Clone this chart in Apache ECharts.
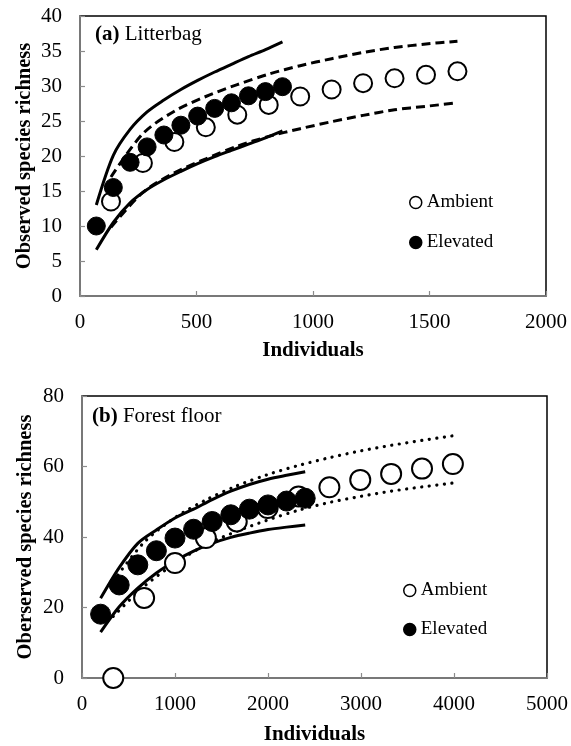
<!DOCTYPE html>
<html>
<head>
<meta charset="utf-8">
<script src="https://cdn.jsdelivr.net/npm/echarts@6/dist/echarts.min.js"></script>
<style>
  html, body { margin: 0; padding: 0; background: #fff; }
  #chart { width: 571px; height: 746px; }
</style>
</head>
<body>
<div id="chart"></div>
<script>
// ---- (a) Litterbag: rarefaction curves with 95% confidence bounds ----
const litterAmbientN     = [133, 270, 405, 540, 675, 810, 945, 1080, 1215, 1350, 1485, 1620];
const litterAmbientS     = [13.5, 19.0, 22.0, 24.1, 25.9, 27.3, 28.5, 29.5, 30.4, 31.1, 31.6, 32.1];
const litterAmbientUpper = [17.0, 23.2, 26.4, 28.5, 30.2, 31.7, 32.9, 33.9, 34.8, 35.5, 36.0, 36.4];
const litterAmbientLower = [9.8, 14.8, 17.6, 19.6, 21.4, 22.8, 23.9, 24.9, 25.8, 26.6, 27.1, 27.6];

const litterElevatedN     = [70, 143, 215, 288, 360, 433, 505, 578, 650, 723, 796, 869];
const litterElevatedS     = [10.0, 15.5, 19.1, 21.3, 23.0, 24.4, 25.7, 26.8, 27.6, 28.6, 29.2, 29.9];
const litterElevatedUpper = [13.0, 20.1, 23.8, 26.3, 28.0, 29.5, 30.8, 32.0, 33.1, 34.2, 35.2, 36.3];
const litterElevatedLower = [6.6, 10.5, 13.3, 15.2, 16.6, 17.8, 18.9, 19.9, 20.8, 21.7, 22.6, 23.6];

// ---- (b) Forest floor ----
const floorAmbientN     = [336, 668, 1000, 1332, 1664, 1996, 2328, 2660, 2992, 3324, 3656, 3988];
const floorAmbientS     = [0, 22.7, 32.6, 39.7, 44.4, 48.2, 51.5, 54.1, 56.2, 57.9, 59.4, 60.7];
const floorAmbientUpper = [27.5, 38.5, 45.5, 50.5, 54.5, 57.7, 60.3, 62.5, 64.4, 66.0, 67.4, 68.7];
const floorAmbientLower = [17.5, 26.0, 32.5, 37.8, 41.6, 44.8, 47.6, 49.8, 51.5, 53.0, 54.2, 55.3];

const floorElevatedN     = [200, 400, 600, 800, 1000, 1200, 1400, 1600, 1800, 2000, 2200, 2400];
const floorElevatedS     = [18.1, 26.4, 32.1, 36.1, 39.7, 42.2, 44.4, 46.3, 47.9, 49.1, 50.2, 51.0];
const floorElevatedUpper = [22.6, 31.3, 38.2, 42.0, 45.4, 47.9, 50.6, 53.0, 54.9, 56.4, 57.5, 58.5];
const floorElevatedLower = [13.0, 20.2, 25.5, 29.8, 33.2, 36.0, 38.2, 39.9, 41.1, 42.1, 42.8, 43.4];

// ---- axis ranges: [min, max, interval] ----
const litterXRange = [0, 2000, 500];
const litterYRange = [0, 40, 5];
const floorXRange  = [0, 5000, 1000];
const floorYRange  = [0, 80, 20];

const FONT = 'Liberation Serif';
const pairs = (xs, ys) => xs.map((x, i) => [x, ys[i]]);

function makeAxes(xr, yr, gridIndex, yName, xGap, yGap) {
  const common = {
    gridIndex,
    nameMoveOverlap: false,
    axisLine: { show: true, lineStyle: { color: '#8c8c8c', width: 1.5 } },
    axisTick: { show: true, inside: true, length: 5, lineStyle: { color: '#8c8c8c', width: 1.2 } },
    splitLine: { show: false },
    axisLabel: { color: '#000', fontFamily: FONT, fontSize: 21, margin: 16, formatter: v => String(v) }
  };
  const x = Object.assign({}, common, {
    type: 'value', min: xr[0], max: xr[1], interval: xr[2],
    name: 'Individuals', nameLocation: 'middle', nameGap: xGap,
    nameTextStyle: { color: '#000', fontFamily: FONT, fontSize: 21, fontWeight: 'bold' }
  });
  const y = Object.assign({}, common, {
    type: 'value', min: yr[0], max: yr[1], interval: yr[2],
    axisLabel: Object.assign({}, common.axisLabel, { margin: 18 }),
    name: yName, nameLocation: 'middle', nameGap: yGap,
    nameTextStyle: { color: '#000', fontFamily: FONT, fontSize: 20.5, fontWeight: 'bold' }
  });
  return [x, y];
}

function ciLine(name, xs, ys, idx, style) {
  return {
    name, type: 'line', xAxisIndex: idx, yAxisIndex: idx,
    data: pairs(xs, ys), smooth: 0.3, symbol: 'none', silent: true, z: 2,
    lineStyle: Object.assign({ color: '#000', width: 3 }, style)
  };
}

function points(name, xs, ys, idx, filled, size, z) {
  return {
    name, type: 'scatter', xAxisIndex: idx, yAxisIndex: idx,
    data: pairs(xs, ys), symbol: 'circle', symbolSize: size, z,
    itemStyle: filled
      ? { color: '#000', borderColor: '#000', borderWidth: 1, opacity: 1 }
      : { color: '#fff', borderColor: '#000', borderWidth: 2, opacity: 1 }
  };
}

const [lx, ly] = makeAxes(litterXRange, litterYRange, 0, 'Observed species richness', 44, 45);
const [fx, fy] = makeAxes(floorXRange, floorYRange, 1, 'Oberserved species richness', 46, 46);

const dashed = { type: [9, 5] };
const dotted = { type: [0.1, 7.5], cap: 'round', width: 3.2 };

const legendText = { color: '#000', fontFamily: FONT, fontSize: 19, lineHeight: 19 };

const option = {
  animation: false,
  backgroundColor: '#fff',
  grid: [
    { left: 80, top: 16, width: 466, height: 280, show: true, borderColor: '#000', borderWidth: 1.5, backgroundColor: 'transparent' },
    { left: 82, top: 396, width: 470, height: 283, show: true, borderColor: '#000', borderWidth: 1.5, backgroundColor: 'transparent' }
  ],
  xAxis: [lx, fx],
  yAxis: [ly, fy],
  legend: [
    { data: ['Ambient', 'Elevated'], orient: 'vertical', left: 404, top: 188, itemWidth: 12, itemHeight: 12,
      itemGap: 21, itemStyle: { borderWidth: 1.5 }, textStyle: legendText, selectedMode: false, icon: 'circle' },
    { data: ['Ambient', 'Elevated'], orient: 'vertical', left: 398, top: 576, itemWidth: 12, itemHeight: 12,
      itemGap: 20, itemStyle: { borderWidth: 1.5 }, textStyle: legendText, selectedMode: false, icon: 'circle' }
  ],
  graphic: [
    { type: 'text', left: 95, top: 24, style: { text: '{b|(a)} Litterbag', fill: '#000', font: '21px "Liberation Serif"',
        rich: { b: { fontWeight: 'bold', fontFamily: FONT, fontSize: 21 } } } },
    { type: 'text', left: 92, top: 406, style: { text: '{b|(b)} Forest floor', fill: '#000', font: '21px "Liberation Serif"',
        rich: { b: { fontWeight: 'bold', fontFamily: FONT, fontSize: 21 } } } }
  ],
  series: [
    ciLine('Ambient upper', litterAmbientN, litterAmbientUpper, 0, dashed),
    ciLine('Ambient lower', litterAmbientN, litterAmbientLower, 0, dashed),
    ciLine('Elevated upper', litterElevatedN, litterElevatedUpper, 0, {}),
    ciLine('Elevated lower', litterElevatedN, litterElevatedLower, 0, {}),
    points('Ambient', litterAmbientN, litterAmbientS, 0, false, 18, 3),
    points('Elevated', litterElevatedN, litterElevatedS, 0, true, 18, 4),

    ciLine('Ambient upper', floorAmbientN, floorAmbientUpper, 1, dotted),
    ciLine('Ambient lower', floorAmbientN, floorAmbientLower, 1, dotted),
    ciLine('Elevated upper', floorElevatedN, floorElevatedUpper, 1, {}),
    ciLine('Elevated lower', floorElevatedN, floorElevatedLower, 1, {}),
    points('Ambient', floorAmbientN, floorAmbientS, 1, false, 20, 3),
    points('Elevated', floorElevatedN, floorElevatedS, 1, true, 20, 4)
  ]
};

const chart = echarts.init(document.getElementById('chart'), null, { renderer: 'canvas' });
chart.setOption(option);
</script>
</body>
</html>
